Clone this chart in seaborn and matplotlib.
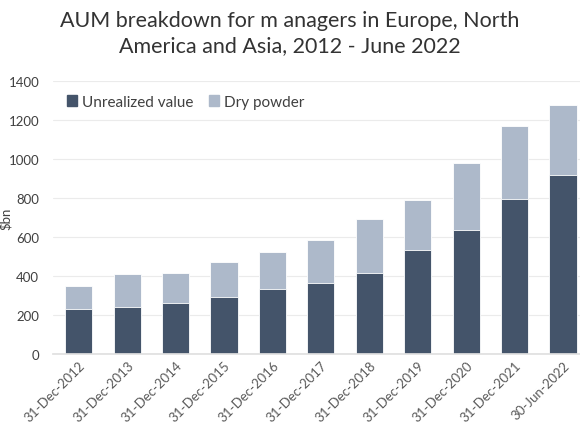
import matplotlib
matplotlib.use("Agg")
import matplotlib.pyplot as plt
import seaborn as sns
import pandas as pd
from matplotlib.patches import Patch

fechas = ['31-Dec-2012', '31-Dec-2013', '31-Dec-2014', '31-Dec-2015', '31-Dec-2016',
          '31-Dec-2017', '31-Dec-2018', '31-Dec-2019', '31-Dec-2020', '31-Dec-2021',
          '30-Jun-2022']
no_realizado = [230, 240, 260, 290, 335, 366, 414, 532, 637, 796, 917]
polvo_seco = [120, 170, 155, 180, 187, 217, 277, 257, 340, 371, 360]

color_oscuro = '#44546A'
color_claro = '#ADB9CA'

df = pd.DataFrame({'fecha': fechas, 'no_realizado': no_realizado, 'polvo_seco': polvo_seco})
df['total'] = df['no_realizado'] + df['polvo_seco']

sns.set_theme(style='white')
plt.rcParams['font.family'] = ['Lato', 'DejaVu Sans']

fig = plt.figure(figsize=(5.8, 4.35), dpi=100)
ax = fig.add_axes([0.0914, 0.184, 0.9086, 0.6275])

sns.barplot(data=df, x='fecha', y='total', color=color_claro, width=0.56,
            saturation=1, edgecolor='white', linewidth=0.6, ax=ax)
sns.barplot(data=df, x='fecha', y='no_realizado', color=color_oscuro, width=0.56,
            saturation=1, edgecolor='white', linewidth=0.6, ax=ax)

ax.set_ylim(0, 1400)
ax.set_yticks(range(0, 1401, 200))
ax.set_xlim(-0.53, 10.35)
ax.yaxis.grid(True, color='#EBEBEB', linewidth=0.8)
ax.set_axisbelow(True)
for lado in ['top', 'right', 'left']:
    ax.spines[lado].set_visible(False)
ax.spines['bottom'].set_color('#E0E0E0')
ax.tick_params(axis='both', length=0, colors='#404040', labelsize=9.5)
ax.tick_params(axis='y', pad=10)
ax.tick_params(axis='x', colors='#595959')
plt.setp(ax.get_xticklabels(), rotation=45, ha='right', rotation_mode='anchor')
ax.set_xlabel('')
ax.set_ylabel('$bn', fontsize=9.5, color='#404040')
ax.yaxis.set_label_coords(-0.078, 0.5)

handles = [Patch(color=color_oscuro, label='Unrealized value'),
           Patch(color=color_claro, label='Dry powder')]
ax.legend(handles=handles, loc='upper left', bbox_to_anchor=(0.0, 1.0), ncol=2,
          frameon=False, fontsize=11, handlelength=0.7, handleheight=0.7,
          handletextpad=0.3, columnspacing=1.0, labelcolor='#404040')

fig.suptitle('AUM breakdown for m anagers in Europe, North\nAmerica and Asia, 2012 - June 2022',
             x=0.5, y=0.975, fontsize=15.5, color='#333333', linespacing=1.35)

fig.savefig('out.png', dpi=100)
